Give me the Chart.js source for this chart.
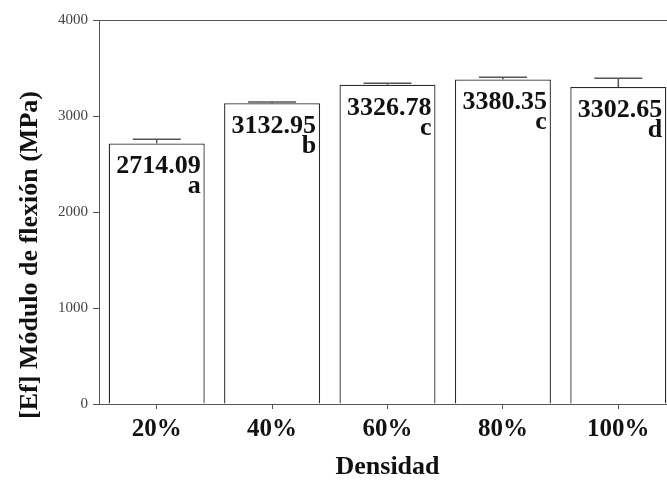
<!DOCTYPE html>
<html>
<head>
<meta charset="utf-8">
<script src="https://cdn.jsdelivr.net/npm/chart.js@4.4.1/dist/chart.umd.min.js"></script>
<style>
  html, body { margin: 0; padding: 0; background: #fff; overflow: hidden; }
  #wrap { width: 677px; height: 485px; }
</style>
</head>
<body>
<div id="wrap"><canvas id="chart"></canvas></div>
<script>
const densidades = ['20%', '40%', '60%', '80%', '100%'];
const modulo = [2714.09, 3132.95, 3326.78, 3380.35, 3302.65];
const desviacion = [43, 13, 14, 23, 90];
const grupos = ['a', 'b', 'c', 'c', 'd'];
const yTicks = [0, 1000, 2000, 3000, 4000];
const yTitle = '[Ef] Módulo de flexión (MPa)';
const xTitle = 'Densidad';

const serif = '"Liberation Serif", "Times New Roman", serif';
const axisColor = '#555';

// error bars on top of each bar
const errorBars = {
  id: 'errorBars',
  afterDatasetsDraw(chart) {
    const { ctx } = chart;
    const y = chart.scales.y;
    const meta = chart.getDatasetMeta(0);
    ctx.save();
    ctx.strokeStyle = '#555';
    ctx.lineWidth = 1.5;
    meta.data.forEach((bar, i) => {
      const top = y.getPixelForValue(modulo[i] + desviacion[i]);
      const half = bar.width / 4;
      ctx.beginPath();
      ctx.moveTo(bar.x, bar.y);
      ctx.lineTo(bar.x, top);
      ctx.moveTo(bar.x - half, top);
      ctx.lineTo(bar.x + half, top);
      ctx.stroke();
    });
    ctx.restore();
  }
};

// value + group letter inside each bar
const barLabels = {
  id: 'barLabels',
  afterDatasetsDraw(chart) {
    const { ctx } = chart;
    const meta = chart.getDatasetMeta(0);
    ctx.save();
    ctx.fillStyle = '#111';
    ctx.font = 'bold 26px ' + serif;
    ctx.textAlign = 'right';
    ctx.textBaseline = 'alphabetic';
    meta.data.forEach((bar, i) => {
      const xr = bar.x + bar.width / 2 - 4;
      ctx.fillText(modulo[i].toFixed(2), xr, bar.y + 30);
      ctx.fillText(grupos[i], xr, bar.y + 50);
    });
    ctx.restore();
  }
};

// y title sits a bit lower than the axis centre in the original
const yTitlePlugin = {
  id: 'yTitlePlugin',
  afterDraw(chart) {
    const { ctx, chartArea } = chart;
    ctx.save();
    ctx.translate(chart.scales.y.left + 30, (chartArea.top + chartArea.bottom) / 2 + 43);
    ctx.rotate(-Math.PI / 2);
    ctx.fillStyle = '#111';
    ctx.font = 'bold 26px ' + serif;
    ctx.textAlign = 'center';
    ctx.textBaseline = 'middle';
    ctx.fillText(yTitle, 0, 0);
    ctx.restore();
  }
};

new Chart(document.getElementById('chart'), {
  type: 'bar',
  data: {
    labels: densidades,
    datasets: [{
      data: modulo,
      backgroundColor: '#fff',
      borderColor: '#2a2a2a',
      borderWidth: 1.3,
      barPercentage: 0.832,
      categoryPercentage: 1,
    }]
  },
  plugins: [errorBars, barLabels, yTitlePlugin],
  options: {
    responsive: true,
    maintainAspectRatio: false,
    animation: false,
    layout: { padding: { top: 20, right: 1, left: 0, bottom: 0 } },
    plugins: { legend: { display: false }, tooltip: { enabled: false } },
    scales: {
      x: {
        afterFit: s => { s.height = 81; },
        grid: { drawOnChartArea: false, offset: false, tickLength: 5, tickColor: axisColor },
        border: { color: axisColor, width: 1 },
        ticks: { color: '#111', padding: 6, font: { family: serif, size: 25, weight: 'bold' } },
        title: { display: true, text: xTitle, color: '#111', padding: { top: 0, bottom: 2 }, font: { family: serif, size: 26, weight: 'bold' } },
      },
      y: {
        min: 0,
        max: 4000,
        afterFit: s => { s.width = 99; },
        afterBuildTicks: s => { s.ticks = yTicks.map(v => ({ value: v })); },
        grid: {
          color: c => (c.tick && c.tick.value === 4000 ? axisColor : 'transparent'),
          tickColor: axisColor,
          tickLength: 6,
        },
        border: { color: axisColor, width: 1 },
        ticks: { color: '#444', padding: 5, callback: v => String(v), font: { family: serif, size: 15 } },
      }
    }
  }
});
</script>
</body>
</html>
